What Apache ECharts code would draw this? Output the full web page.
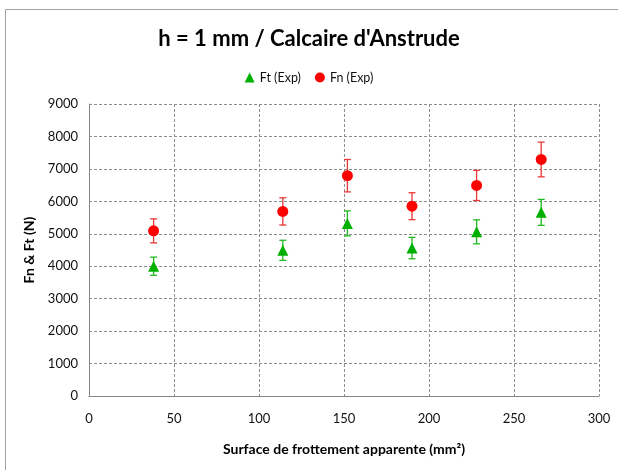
<!DOCTYPE html>
<html>
<head>
<meta charset="utf-8">
<script src="https://cdn.jsdelivr.net/npm/echarts@6/dist/echarts.min.js"></script>
<style>
html, body { margin: 0; padding: 0; background: #fff; }
#chart { width: 618px; height: 470px; }
</style>
</head>
<body>
<div id="chart"></div>
<script>
// Apparent friction surface (mm²)
const surfaces = [38, 114, 152, 190, 228, 266];
// Tangential force Ft and its scatter (N)
const ftMean = [4000, 4490, 5320, 4560, 5060, 5660];
const ftErr = [280, 310, 385, 330, 370, 400];
// Normal force Fn and its scatter (N)
const fnMean = [5090, 5690, 6790, 5850, 6490, 7290];
const fnErr = [370, 420, 500, 415, 465, 535];

const xTicks = [0, 50, 100, 150, 200, 250, 300];
const yTicks = [0, 1000, 2000, 3000, 4000, 5000, 6000, 7000, 8000, 9000];

const FONT = 'Lato';
const GREEN = '#00b000';
const RED = '#ff0000';

function errorData(mean, err) {
  return surfaces.map((x, i) => [x, mean[i] - err[i], mean[i] + err[i]]);
}

function errorRender(color) {
  return function (params, api) {
    const x = api.value(0);
    const lo = api.coord([x, api.value(1)]);
    const hi = api.coord([x, api.value(2)]);
    const half = 3.5;
    const style = { stroke: color, lineWidth: 1.3 };
    return {
      type: 'group',
      children: [
        { type: 'line', shape: { x1: lo[0], y1: lo[1], x2: hi[0], y2: hi[1] }, style },
        { type: 'line', shape: { x1: hi[0] - half, y1: hi[1], x2: hi[0] + half, y2: hi[1] }, style },
        { type: 'line', shape: { x1: lo[0] - half, y1: lo[1], x2: lo[0] + half, y2: lo[1] }, style }
      ]
    };
  };
}

const chart = echarts.init(document.getElementById('chart'), null, { renderer: 'canvas' });

chart.setOption({
  backgroundColor: '#fff',
  animation: false,
  title: {
    text: "h = 1 mm / Calcaire d'Anstrude",
    left: 'center',
    top: 23,
    textStyle: { fontFamily: FONT, fontSize: 22, fontWeight: 'bold', color: '#000' }
  },
  legend: {
    top: 66,
    left: 'center',
    itemWidth: 10,
    itemHeight: 10,
    itemGap: 14,
    textStyle: { fontFamily: FONT, fontSize: 12.5, color: '#111' },
    data: [
      { name: 'Ft (Exp)', icon: 'triangle' },
      { name: 'Fn (Exp)', icon: 'circle' }
    ]
  },
  graphic: [
    {
      type: 'polyline',
      silent: true,
      shape: { points: [[5.5, 470], [5.5, 9.5], [618, 9.5]] },
      style: { stroke: '#a0a0a0', lineWidth: 1, fill: null }
    }
  ],
  grid: { left: 89, right: 19, top: 104, bottom: 74, containLabel: false },
  xAxis: {
    type: 'value',
    min: xTicks[0],
    max: xTicks[xTicks.length - 1],
    interval: 50,
    name: 'Surface de frottement apparente (mm²)',
    nameLocation: 'middle',
    nameGap: 46,
    nameTextStyle: { fontFamily: FONT, fontSize: 14, fontWeight: 'bold', color: '#000' },
    axisLine: { show: true, lineStyle: { color: '#888', width: 1 } },
    axisTick: { show: false },
    axisLabel: { fontFamily: FONT, fontSize: 13, color: '#111', margin: 16 },
    splitLine: { show: true, lineStyle: { color: '#8c8c8c', type: [3, 2], width: 1 } }
  },
  yAxis: {
    type: 'value',
    min: yTicks[0],
    max: yTicks[yTicks.length - 1],
    interval: 1000,
    name: 'Fn & Ft (N)',
    nameLocation: 'middle',
    nameGap: 50,
    nameTextStyle: { fontFamily: FONT, fontSize: 14, fontWeight: 'bold', color: '#000' },
    axisLine: { show: true, lineStyle: { color: '#888', width: 1 } },
    axisTick: { show: false },
    axisLabel: { fontFamily: FONT, fontSize: 13, color: '#111', margin: 11, formatter: v => String(v) },
    splitLine: { show: true, lineStyle: { color: '#8c8c8c', type: [3, 2], width: 1 } }
  },
  series: [
    {
      name: 'Ft error',
      type: 'custom',
      renderItem: errorRender('#22b822'),
      data: errorData(ftMean, ftErr),
      encode: { x: 0, y: [1, 2] },
      z: 2
    },
    {
      name: 'Fn error',
      type: 'custom',
      renderItem: errorRender('#e83838'),
      data: errorData(fnMean, fnErr),
      encode: { x: 0, y: [1, 2] },
      z: 2
    },
    {
      name: 'Ft (Exp)',
      type: 'scatter',
      symbol: 'triangle',
      symbolSize: 11,
      itemStyle: { color: GREEN, opacity: 1 },
      data: surfaces.map((x, i) => [x, ftMean[i]]),
      z: 3
    },
    {
      name: 'Fn (Exp)',
      type: 'scatter',
      symbol: 'circle',
      symbolSize: 11,
      itemStyle: { color: RED, opacity: 1 },
      data: surfaces.map((x, i) => [x, fnMean[i]]),
      z: 3
    }
  ]
});
</script>
</body>
</html>
